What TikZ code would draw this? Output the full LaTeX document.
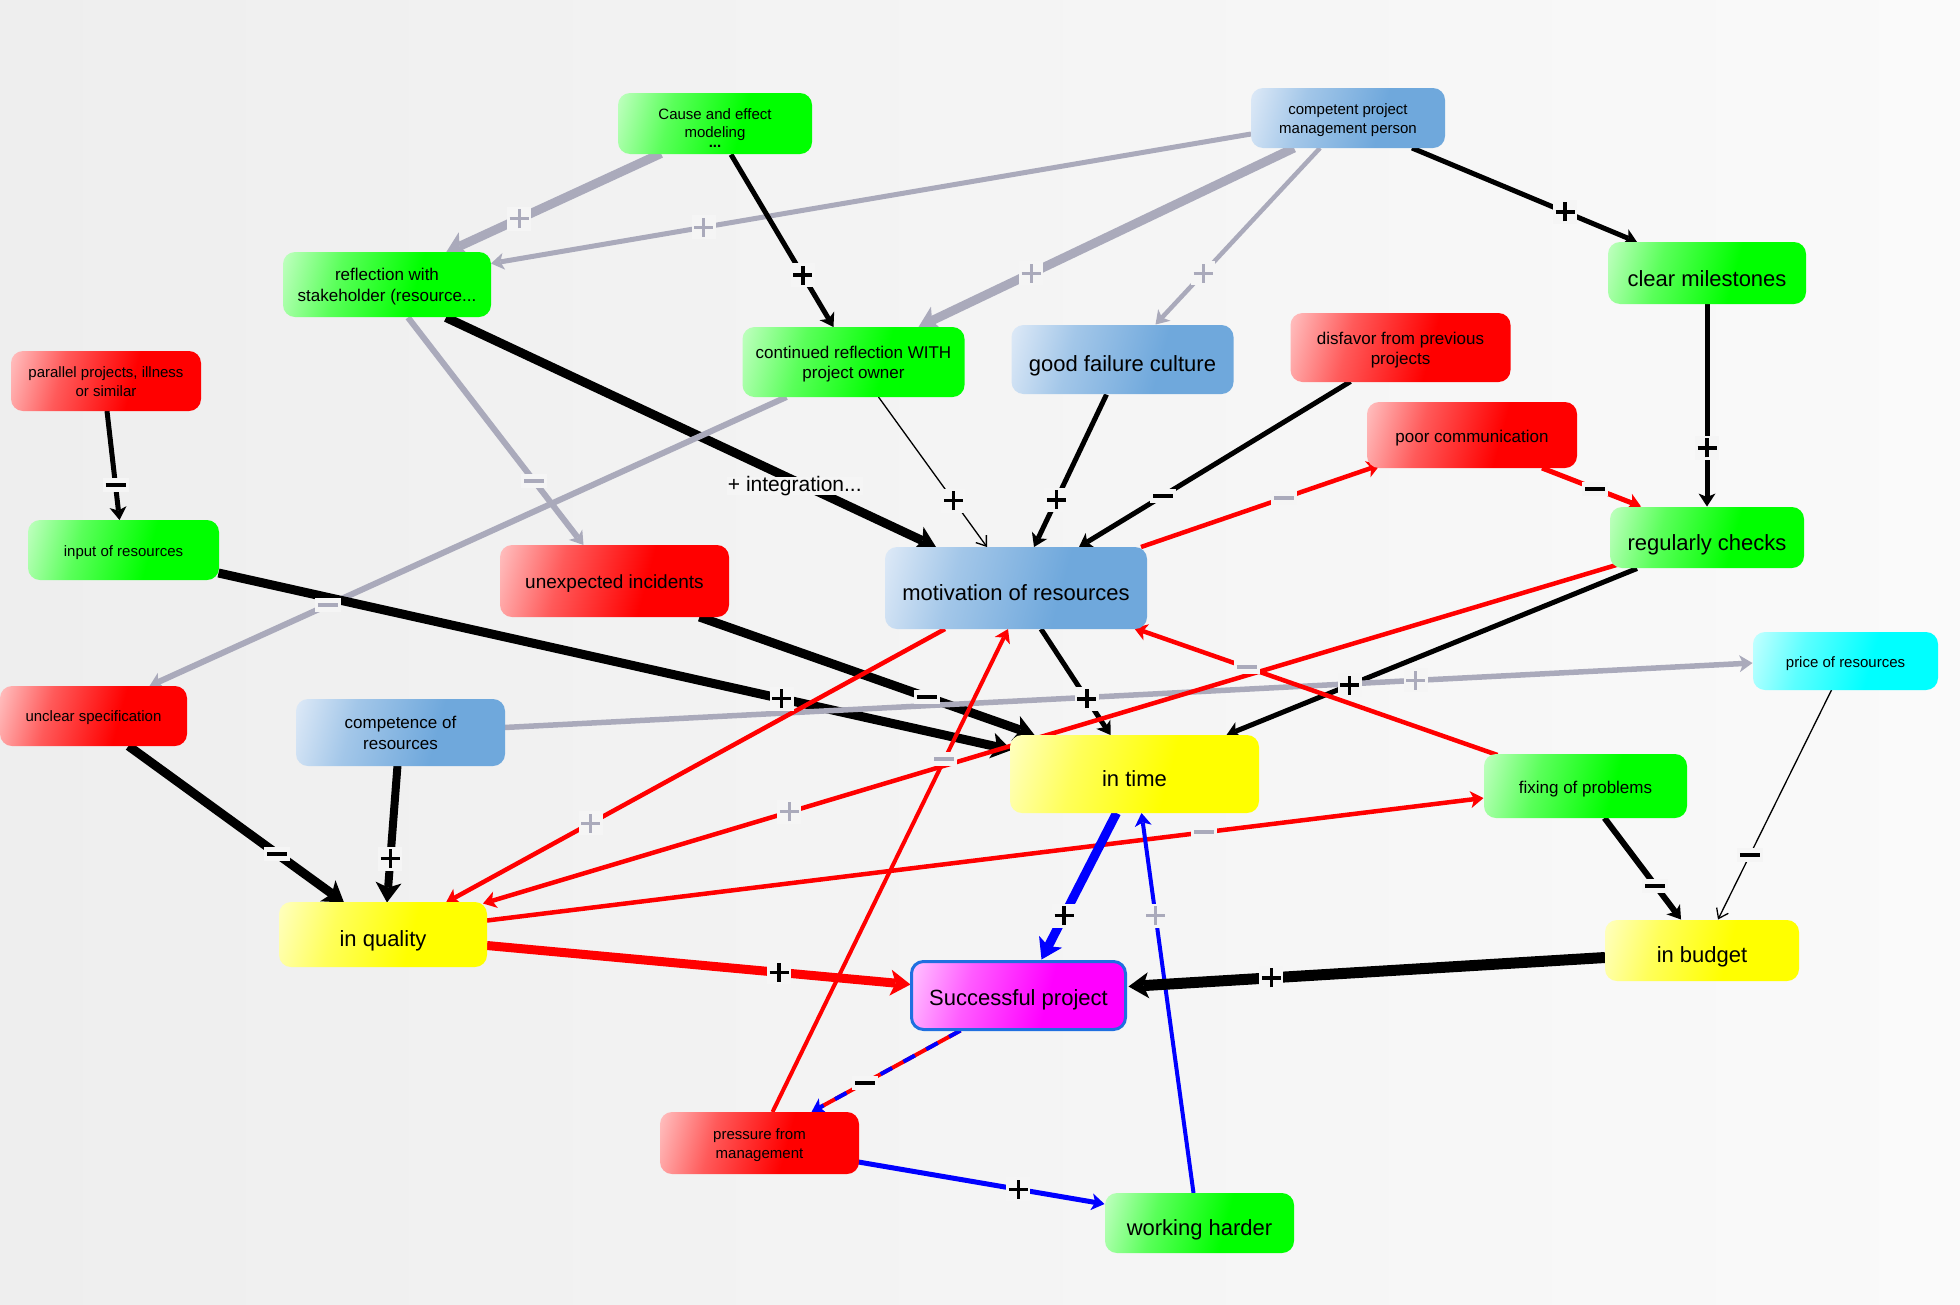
\documentclass[tikz,border=0pt]{standalone}
\usepackage{fontspec}
\setmainfont{Liberation Sans}
\usetikzlibrary{arrows.meta,calc}
\definecolor{gL}{HTML}{C8FFC8}\definecolor{gF}{HTML}{00FF00}
\definecolor{rL}{HTML}{FFC8C8}\definecolor{rF}{HTML}{FF0000}
\definecolor{bL}{HTML}{E2ECF8}\definecolor{bF}{HTML}{6FA8DC}
\definecolor{yL}{HTML}{FFFFC8}\definecolor{yF}{HTML}{FFFF00}
\definecolor{cL}{HTML}{CCFFFF}\definecolor{cF}{HTML}{00FFFF}
\definecolor{mL}{HTML}{FFCCFF}\definecolor{mF}{HTML}{FF00FF}
\colorlet{gM}{gF!55!gL}\colorlet{rM}{rF!55!rL}\colorlet{bM}{bF!55!bL}
\colorlet{yM}{yF!55!yL}\colorlet{cM}{cF!55!cL}\colorlet{mM}{mF!55!mL}
\definecolor{eg}{HTML}{AAAABB}
\definecolor{bluE}{HTML}{0000FF}
\definecolor{labbg}{HTML}{F5F5F5}
\definecolor{bgL}{HTML}{EEEEEE}
\definecolor{bgR}{HTML}{FAFAFA}
\definecolor{sbord}{HTML}{1F6FE0}
\pgfdeclarehorizontalshading{gsh}{100bp}{color(0bp)=(gL); color(18bp)=(gL); color(36bp)=(gM); color(58bp)=(gF); color(100bp)=(gF)}
\pgfdeclarehorizontalshading{rsh}{100bp}{color(0bp)=(rL); color(18bp)=(rL); color(36bp)=(rM); color(58bp)=(rF); color(100bp)=(rF)}
\pgfdeclarehorizontalshading{bsh}{100bp}{color(0bp)=(bL); color(18bp)=(bL); color(36bp)=(bM); color(60bp)=(bF); color(100bp)=(bF)}
\pgfdeclarehorizontalshading{ysh}{100bp}{color(0bp)=(yL); color(18bp)=(yL); color(36bp)=(yM); color(58bp)=(yF); color(100bp)=(yF)}
\pgfdeclarehorizontalshading{csh}{100bp}{color(0bp)=(cL); color(18bp)=(cL); color(36bp)=(cM); color(58bp)=(cF); color(100bp)=(cF)}
\pgfdeclarehorizontalshading{msh}{100bp}{color(0bp)=(mL); color(18bp)=(mL); color(36bp)=(mM); color(58bp)=(mF); color(100bp)=(mF)}
\pgfdeclarelayer{bg}\pgfdeclarelayer{fg}\pgfsetlayers{bg,main,fg}
\newcommand\myfs[2]{\fontsize{#1}{#2}\selectfont}
\newcommand\sttt[1]{\rule{0pt}{#1pt}}
\tikzset{
  box/.style={shade, shading=#1, shading angle=-15, rounded corners=12pt, inner sep=1pt, text=black},
  one/.style={text height=#1pt, text depth=0pt},
  tipA/.style={-{Stealth[length=13pt,width=17pt,inset=3.5pt,line width=0pt]}},
  tipB/.style={-{Stealth[length=20pt,width=26pt,inset=5pt,line width=0pt]}},
  tipO/.style={-{Straight Barb[length=9pt,width=13pt]}},
  lpB/.style={fill=labbg, inner sep=0pt, minimum width=24pt, minimum height=24pt,
    path picture={\draw[-,solid,black,line width=3.6pt]
      ([xshift=-9.5pt]path picture bounding box.center) -- ([xshift=9.5pt]path picture bounding box.center)
      ([yshift=-9.5pt]path picture bounding box.center) -- ([yshift=9.5pt]path picture bounding box.center);}},
  lpG/.style={fill=labbg, inner sep=0pt, minimum width=24pt, minimum height=24pt,
    path picture={\draw[-,solid,eg,line width=3pt]
      ([xshift=-9.5pt]path picture bounding box.center) -- ([xshift=9.5pt]path picture bounding box.center)
      ([yshift=-9.5pt]path picture bounding box.center) -- ([yshift=9.5pt]path picture bounding box.center);}},
  lmB/.style={fill=labbg, inner sep=0pt, minimum width=26pt, minimum height=14pt,
    path picture={\draw[-,solid,black,line width=4pt]
      ([xshift=-10pt]path picture bounding box.center) -- ([xshift=10pt]path picture bounding box.center);}},
  lmG/.style={fill=labbg, inner sep=0pt, minimum width=26pt, minimum height=14pt,
    path picture={\draw[-,solid,eg,line width=4pt]
      ([xshift=-10pt]path picture bounding box.center) -- ([xshift=10pt]path picture bounding box.center);}},
}
\begin{document}
\begin{tikzpicture}[x=1pt,y=-1pt,line cap=butt]
\useasboundingbox (0,0) rectangle (1960,1304);
\begin{pgfonlayer}{bg}
\shade[left color=bgL, right color=bgR] (0,0) rectangle (1960,1304);
\end{pgfonlayer}
\begin{pgfonlayer}{fg}
\node[box=gsh, align=center, minimum width=194pt, minimum height=61pt, font=\myfs{15}{18}] (cause) at (715,123.5) {\sttt{19}Cause and effect\\modeling\\[-8pt]\textbf{...}};
\node[box=bsh, align=center, minimum width=194pt, minimum height=60pt, font=\myfs{15}{19}] (compm) at (1348,118) {\sttt{16}competent project\\management person};
\node[box=gsh, align=center, minimum width=208pt, minimum height=65pt, font=\myfs{17}{21}] (refl) at (387,284.5) {\sttt{17.5}reflection with\\stakeholder (resource...};
\node[box=rsh, align=center, minimum width=190pt, minimum height=60pt, font=\myfs{15}{19}] (par) at (106,381) {\sttt{13}parallel projects, illness\\or similar};
\node[box=gsh, align=center, minimum width=222pt, minimum height=70pt, font=\myfs{17}{20}] (contd) at (853.5,362) {\sttt{17.5}continued reflection WITH\\project owner};
\node[box=bsh, one=23, minimum width=222pt, minimum height=69pt, font=\myfs{22}{26}] (good) at (1122.5,359.5) {good failure culture};
\node[box=rsh, align=center, minimum width=220pt, minimum height=69pt, font=\myfs{17}{20}] (disf) at (1400.5,347.5) {\sttt{18.5}disfavor from previous\\projects};
\node[box=rsh, one=14, minimum width=210pt, minimum height=66pt, font=\myfs{17}{20}] (poor) at (1472,435) {poor communication};
\node[box=gsh, one=26, minimum width=198pt, minimum height=62pt, font=\myfs{22}{26}] (clear) at (1707,273) {clear milestones};
\node[box=gsh, one=25, minimum width=194pt, minimum height=61pt, font=\myfs{22}{26}] (regch) at (1707,537.5) {regularly checks};
\node[box=csh, one=12, minimum width=185pt, minimum height=58pt, font=\myfs{15}{19}] (price) at (1845.5,661) {price of resources};
\node[box=gsh, one=12, minimum width=191pt, minimum height=60pt, font=\myfs{15}{19}] (input) at (123.5,550) {input of resources};
\node[box=rsh, one=14, minimum width=229pt, minimum height=72pt, font=\myfs{19}{23}] (unexp) at (614.5,581) {unexpected incidents};
\node[box=bsh, one=24, minimum width=262pt, minimum height=82pt, font=\myfs{22}{26}] (motiv) at (1016,588) {motivation of resources};
\node[box=rsh, one=10, minimum width=187pt, minimum height=60pt, font=\myfs{15}{19}] (unclear) at (93.5,716) {unclear specification};
\node[box=bsh, align=center, minimum width=209pt, minimum height=67pt, font=\myfs{17}{21}] (compet) at (400.5,732.5) {\sttt{14}competence of\\resources};
\node[box=ysh, one=23, minimum width=208pt, minimum height=65pt, font=\myfs{22}{26}] (quality) at (383,934.5) {in quality};
\node[box=ysh, one=24, minimum width=249pt, minimum height=78pt, font=\myfs{22}{26}] (intime) at (1134.5,774) {in time};
\node[box=gsh, one=14, minimum width=203pt, minimum height=64pt, font=\myfs{17}{21}] (fixing) at (1585.5,786) {fixing of problems};
\node[box=ysh, one=23, minimum width=194pt, minimum height=61pt, font=\myfs{22}{26}] (budget) at (1702,950.5) {in budget};
\node[box=msh, one=19, draw=sbord, line width=3pt, minimum width=214pt, minimum height=68pt, font=\myfs{22}{26}] (success) at (1018.5,995.5) {Successful project};
\node[box=rsh, align=center, minimum width=199pt, minimum height=62pt, font=\myfs{15}{19}] (pressure) at (759.5,1143) {\sttt{14.2}pressure from\\management};
\node[box=gsh, one=24, minimum width=189pt, minimum height=60pt, font=\myfs{22}{26}] (working) at (1199.5,1223) {working harder};
\end{pgfonlayer}
% edges
\draw[eg, line width=9pt, tipB] ($(cause)+(-54,30)$) -- coordinate[pos=0.66](L1) ($(refl)+(59,-32)$);
\draw[eg, line width=5pt, tipA] ($(compm)+(-97,16)$) -- coordinate[pos=0.72](L2) ($(refl)+(104,-21)$);
\draw[black, line width=5pt, tipA] ($(cause)+(16,31)$) -- coordinate[pos=0.70](L3) ($(contd)+(-20,-35)$);
\draw[eg, line width=9pt, tipB] ($(compm)+(-54,30)$) -- coordinate[pos=0.70](L4) ($(contd)+(65,-35)$);
\draw[eg, line width=4.5pt, tipA] ($(compm)+(-28,30)$) -- coordinate[pos=0.71](L5) ($(good)+(33,-35)$);
\draw[black, line width=5pt, tipA] ($(compm)+(64,30)$) -- coordinate[pos=0.68](L6) ($(clear)+(-70,-31)$);
\draw[black, line width=5pt, tipA] ($(clear)+(0,31)$) -- coordinate[pos=0.71](L7) ($(regch)+(0,-31)$);
\draw[rF, line width=5pt, tipA] ($(poor)+(70,33)$) -- coordinate[pos=0.54](L8) ($(regch)+(-66,-31)$);
\draw[rF, line width=4.5pt, tipA] ($(motiv)+(125,-41)$) -- coordinate[pos=0.60](L9) ($(poor)+(-92,30)$);
\draw[black, line width=5pt, tipA] ($(disf)+(-50,34)$) -- coordinate[pos=0.69](L10) ($(motiv)+(63,-41)$);
\draw[black, line width=5pt, tipA] ($(good)+(-16,35)$) -- coordinate[pos=0.69](L11) ($(motiv)+(18,-41)$);
\draw[black, line width=1.3pt, tipO] ($(contd)+(25,35)$) -- coordinate[pos=0.69](L12) ($(motiv)+(-29,-41)$);
\draw[black, line width=9pt, tipB] ($(refl)+(59,33)$) -- coordinate[pos=0.72](L13) ($(motiv)+(-80,-41)$);
\draw[eg, line width=6pt, tipA] ($(refl)+(21,33)$) -- coordinate[pos=0.72](L14) ($(unexp)+(-31,-36)$);
\draw[eg, line width=6pt, tipA] ($(contd)+(-67,35)$) -- coordinate[pos=0.72](L15) ($(unclear)+(56,-30)$);
\draw[black, line width=5pt, tipA] ($(par)+(1,30)$) -- coordinate[pos=0.68](L16) ($(input)+(-4,-30)$);
\draw[black, line width=9pt, tipB] ($(input)+(95,23)$) -- coordinate[pos=0.71](L17) ($(intime)+(-123,-24)$);
\draw[black, line width=9pt, tipB] ($(unexp)+(85,36)$) -- coordinate[pos=0.68](L18) ($(intime)+(-100,-39)$);
\draw[black, line width=5pt, tipA] ($(motiv)+(25,41)$) -- coordinate[pos=0.66](L19) ($(intime)+(-24,-39)$);
\draw[black, line width=5pt, tipA] ($(regch)+(-70,31)$) -- coordinate[pos=0.70](L20) ($(intime)+(92,-39)$);
\draw[eg, line width=5.5pt, tipA] ($(compet)+(104,-5)$) -- coordinate[pos=0.73](L21) ($(price)+(-93,2)$);
\draw[rF, line width=4.5pt, tipA] ($(motiv)+(-71,41)$) -- coordinate[pos=0.71](L22) ($(quality)+(63,-32)$);
\draw[rF, line width=4.5pt, tipA] ($(regch)+(-89,27)$) -- coordinate[pos=0.73](L23) ($(quality)+(100,-31)$);
\draw[rF, line width=4.5pt, tipA] ($(quality)+(104,-14)$) -- coordinate[pos=0.72](L24) ($(fixing)+(-102,12)$);
\draw[rF, line width=4.5pt, tipA] ($(fixing)+(-88,-31)$) -- coordinate[pos=0.69](L25) ($(motiv)+(118,40)$);
\draw[rF, line width=4pt, tipA] ($(pressure)+(13,-31)$) -- coordinate[pos=0.73](L26) ($(motiv)+(-8,41)$);
\draw[rF, line width=9pt, tipB] ($(quality)+(104,11)$) -- coordinate[pos=0.69](L27) ($(success)+(-108,-11)$);
\draw[bluE, line width=9pt, tipB] ($(intime)+(-18,39)$) -- coordinate[pos=0.70](L28) ($(success)+(23,-36)$);
\draw[bluE, line width=4pt, tipA] ($(working)+(-6,-30)$) -- coordinate[pos=0.73](L29) ($(intime)+(7,39)$);
\draw[black, line width=11pt, tipB] ($(budget)+(-97,7)$) -- coordinate[pos=0.70](L30) ($(success)+(110,-9)$);
\draw[rF, line width=4pt, shorten >=10pt] ($(success)+(-58,35)$) -- ($(pressure)+(52,-31)$);
\draw[bluE, line width=4pt, dash pattern=on 13pt off 13pt, tipA] ($(success)+(-58,35)$) -- coordinate[pos=0.64](L31) ($(pressure)+(52,-31)$);
\draw[bluE, line width=5pt, tipA] ($(pressure)+(99,19)$) -- coordinate[pos=0.65](L32) ($(working)+(-95,-19)$);
\draw[black, line width=6pt, tipA] ($(fixing)+(19,32)$) -- coordinate[pos=0.665](L33) ($(budget)+(-21,-31)$);
\draw[black, line width=1.3pt, tipO] ($(price)+(-14,29)$) -- coordinate[pos=0.72](L34) ($(budget)+(16,-31)$);
\draw[black, line width=9pt, tipB] ($(unclear)+(35,30)$) -- coordinate[pos=0.69](L35) ($(quality)+(-39,-32)$);
\draw[black, line width=8pt, tipB] ($(compet)+(-3,33)$) -- coordinate[pos=0.68](L36) ($(quality)+(4,-32)$);
% labels
\node[lpG] (k1) at (L1) {};
\node[lpG] (k2) at (L2) {};
\node[lpB] (k3) at (L3) {};
\node[lpG] (k4) at (L4) {};
\node[lpG] (k5) at (L5) {};
\node[lpB] (k6) at (L6) {};
\node[lpB] (k7) at (L7) {};
\node[lmB] (k8) at (L8) {};
\node[lmG] (k9) at (L9) {};
\node[lmB] (k10) at (L10) {};
\node[lpB] (k11) at (L11) {};
\node[lpB] (k12) at (L12) {};
\node[font=\myfs{21}{24}, fill=labbg, inner xsep=1pt, inner ysep=0pt, text height=15pt, text depth=3pt, xshift=-4pt, yshift=-3pt] (k13) at (L13) {+ integration...};
\node[lmG] (k14) at (L14) {};
\node[lmG] (k15) at (L15) {};
\node[lmB] (k16) at (L16) {};
\node[lpB] (k17) at (L17) {};
\node[lmB] (k18) at (L18) {};
\node[lpB] (k19) at (L19) {};
\node[lpB] (k20) at (L20) {};
\node[lpG] (k21) at (L21) {};
\node[lpG] (k22) at (L22) {};
\node[lpG] (k23) at (L23) {};
\node[lmG] (k24) at (L24) {};
\node[lmG] (k25) at (L25) {};
\node[lmG] (k26) at (L26) {};
\node[lpB] (k27) at (L27) {};
\node[lpB] (k28) at (L28) {};
\node[lpG] (k29) at (L29) {};
\node[lpB] (k30) at (L30) {};
\node[lmB] (k31) at (L31) {};
\node[lpB] (k32) at (L32) {};
\node[lmB] (k33) at (L33) {};
\node[lmB] (k34) at (L34) {};
\node[lmB] (k35) at (L35) {};
\node[lpB] (k36) at (L36) {};
\end{tikzpicture}
\end{document}
